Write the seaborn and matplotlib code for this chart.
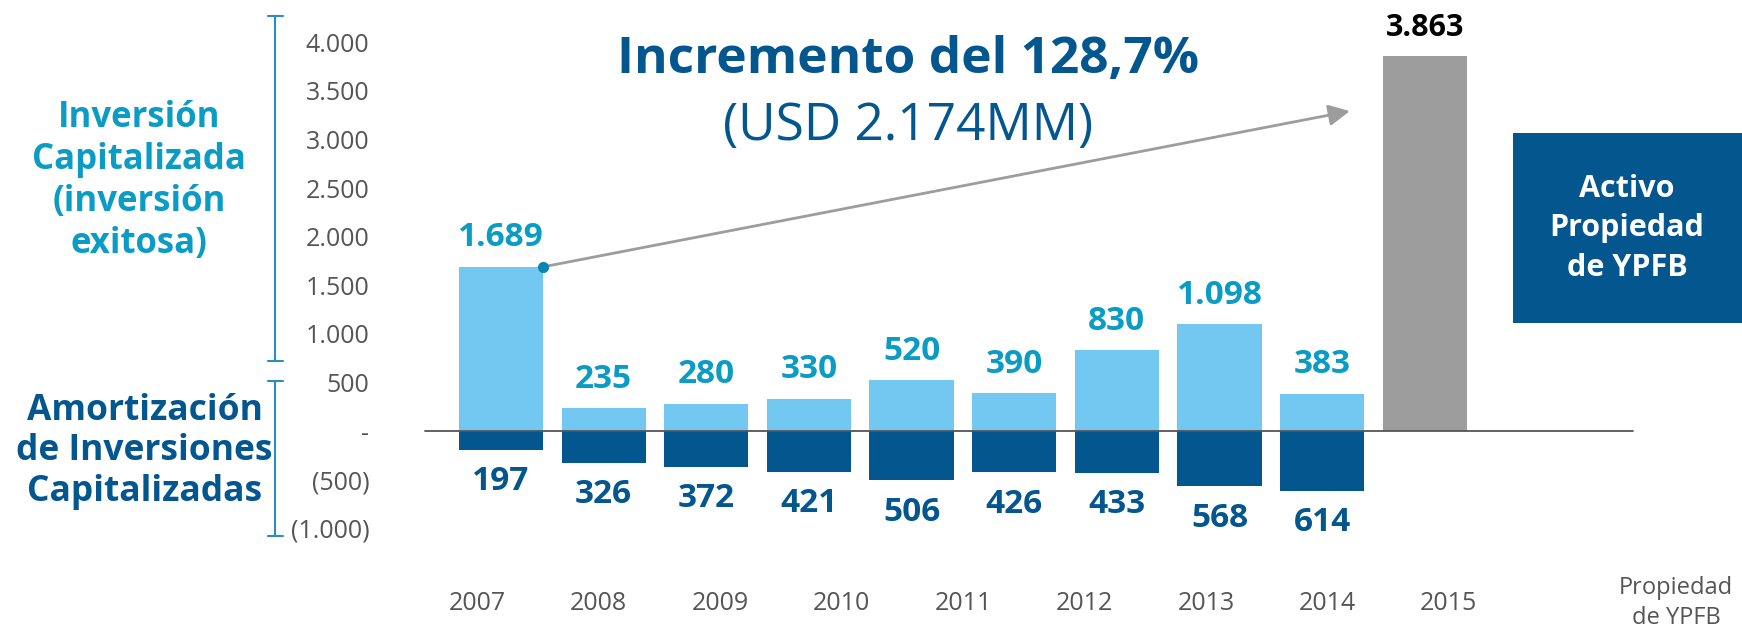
import numpy as np
import pandas as pd
import matplotlib.pyplot as plt
import seaborn as sns
from matplotlib.lines import Line2D
from matplotlib.patches import Rectangle

# datos (USD MM)
categorias = ['2007', '2008', '2009', '2010', '2011', '2012', '2013', '2014', '2015', 'Propiedad\nde YPFB']
inversion = [1689, 235, 280, 330, 520, 390, 830, 1098, 383]
amortizacion = [197, 326, 372, 421, 506, 426, 433, 568, 614]
activo_ypfb = 3863
yticks = [-1000, -500, 0, 500, 1000, 1500, 2000, 2500, 3000, 3500, 4000]
ytick_labels = ['(1.000)', '(500)', '-', '500', '1.000', '1.500', '2.000',
                '2.500', '3.000', '3.500', '4.000']

CELESTE = '#73C8F2'
AZUL = '#04568F'
TURQUESA = '#0A9CC5'
GRIS = '#9D9D9D'
GRIS_TXT = '#555555'


def fmt(v):
    return f'{v:,}'.replace(',', '.')


sns.set_style('white')
plt.rcParams['font.family'] = ['Open Sans', 'DejaVu Sans']

years = categorias[:9]
df_pos = pd.DataFrame({'cat': years, 'val': inversion})
df_neg = pd.DataFrame({'cat': years, 'val': [-v for v in amortizacion]})
df_gris = pd.DataFrame({'cat': [categorias[9]], 'val': [activo_ypfb]})

fig = plt.figure(figsize=(17.42, 6.31), dpi=100)
ax = fig.add_axes([0.22, 0.0, 0.78, 1.0])

kw = dict(x='cat', y='val', order=categorias, width=0.82, errorbar=None, linewidth=0, ax=ax)
sns.barplot(data=df_pos, color=CELESTE, saturation=1, **kw)
sns.barplot(data=df_neg, color=AZUL, saturation=1, **kw)
sns.barplot(data=df_gris, color=GRIS, saturation=1, **kw)

ax.set_xlim(-1.147, 12.09)
ax.set_ylim(-2057, 4434)
for s in ax.spines.values():
    s.set_visible(False)
ax.set_xlabel('')
ax.set_ylabel('')
ax.set_xticks([])
ax.set_yticks(yticks)
ax.set_yticklabels(ytick_labels, fontsize=18, color=GRIS_TXT)
ax.tick_params(axis='y', length=0, pad=10)

# linea base
ax.plot([-0.74, 11.03], [0, 0], color=GRIS_TXT, lw=1.3, zorder=3)

# etiquetas de valores
for i, v in enumerate(inversion):
    ax.annotate(fmt(v), (i, v), xytext=(0, 9), textcoords='offset points',
                ha='center', va='bottom', fontsize=24, fontweight='bold', color=TURQUESA)
for i, v in enumerate(amortizacion):
    ax.annotate(fmt(v), (i, -v), xytext=(0, -11), textcoords='offset points',
                ha='center', va='top', fontsize=24, fontweight='bold', color=AZUL)
ax.annotate(fmt(activo_ypfb), (9, activo_ypfb), xytext=(0, 9), textcoords='offset points',
            ha='center', va='bottom', fontsize=22, fontweight='bold', color='black')

# etiquetas del eje x (desplazadas como en el original)
label_pos = list(-0.23 + 1.183 * np.arange(9)) + [11.45]
for p, c in zip(label_pos, categorias):
    ax.text(p, -1771, c, ha='center', va='center', fontsize=18 if '\n' not in c else 17,
            color=GRIS_TXT, linespacing=1.3)

# flecha de incremento
ax.annotate('', xy=(8.27, 3291), xytext=(0.41, inversion[0]),
            arrowprops=dict(arrowstyle='-|>', color=GRIS, lw=2, mutation_scale=32,
                            shrinkA=0, shrinkB=0))
ax.plot(0.41, inversion[0], 'o', color='#0A86B0', ms=7, zorder=5)

fig.text(0.521, 0.905, 'Incremento del 128,7%', ha='center', va='center',
         fontsize=37, fontweight='bold', color=AZUL)
fig.text(0.521, 0.80, '(USD 2.174MM)', ha='center', va='center',
         fontsize=37, color=AZUL)

# textos laterales
fig.text(0.080, 0.713, 'Inversión\nCapitalizada\n(inversión\nexitosa)', ha='center',
         va='center', fontsize=25, fontweight='bold', color=TURQUESA, linespacing=1.23)
fig.text(0.083, 0.285, 'Amortización\nde Inversiones\nCapitalizadas', ha='center',
         va='center', fontsize=25.5, fontweight='bold', color=AZUL, linespacing=1.17)

# corchetes
for y0, y1 in [(0.975, 0.428), (0.396, 0.151)]:
    fig.add_artist(Line2D([0.158, 0.158], [y0, y1], color='#2B8CBF', lw=1.5))
    for yy in (y0, y1):
        fig.add_artist(Line2D([0.1536, 0.1624], [yy, yy], color='#2B8CBF', lw=1.5))

# recuadro
fig.add_artist(Rectangle((0.8686, 0.4877), 0.1314, 0.3013, transform=fig.transFigure,
                         facecolor=AZUL, edgecolor='none'))
fig.text(0.934, 0.638, 'Activo\nPropiedad\nde YPFB', ha='center', va='center',
         fontsize=22, fontweight='bold', color='white', linespacing=1.4)

fig.savefig('out.png', dpi=100)
